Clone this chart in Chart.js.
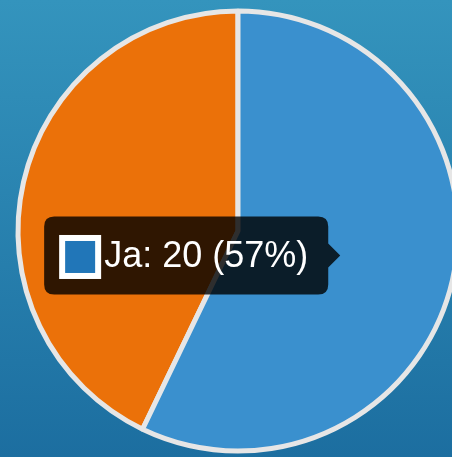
<!DOCTYPE html>
<html>
<head>
<meta charset="utf-8">
<script src="https://cdn.jsdelivr.net/npm/chart.js@4"></script>
<style>
  html, body {
    margin: 0;
    padding: 0;
    overflow: hidden;
    width: 452px;
    height: 457px;
    background: linear-gradient(to bottom, #3494bd, #1c6ea0);
  }
  #wrap {
    position: absolute;
    left: 0;
    top: 0;
    width: 476px;
    height: 462px;
  }
</style>
</head>
<body>
<div id="wrap"><canvas id="myChart"></canvas></div>
<script>
const labels = ["Ja", "Nein"];
const values = [20, 15];
const sliceColors = ["#3a90ce", "#eb7109"];
const boxColors = ["#2176b8", "#d8640a"];

const total = values.reduce((a, b) => a + b, 0);

const data = {
  labels: labels,
  datasets: [
    {
      data: values,
      backgroundColor: sliceColors,
      hoverBackgroundColor: sliceColors,
      borderColor: "#e6e6e6",
      hoverBorderColor: "#e6e6e6",
      borderWidth: 5,
      hoverBorderWidth: 5,
      hoverOffset: 0,
    },
  ],
};

const config = {
  type: "pie",
  data: data,
  options: {
    animation: false,
    responsive: true,
    maintainAspectRatio: false,
    radius: 220,
    layout: { padding: 0 },
    events: [],
    plugins: {
      legend: { display: false },
      tooltip: {
        backgroundColor: "rgba(0, 0, 0, 0.8)",
        bodyColor: "#ffffff",
        bodyFont: { family: "'Liberation Sans', Arial, sans-serif", size: 36, lineHeight: 1.2 },
        padding: { left: 20, right: 20, top: 19, bottom: 16 },
        cornerRadius: 10,
        caretSize: 12,
        caretPadding: 5,
        boxWidth: 32,
        boxHeight: 34,
        boxPadding: 6,
        callbacks: {
          title: () => "",
          label: (item) => {
            const pct = Math.round(item.raw / total * 100);
            return item.label + ": " + item.raw + " (" + pct + "%)";
          },
          labelColor: (item) => ({
            borderColor: "#ffffff",
            backgroundColor: boxColors[item.dataIndex],
            borderWidth: 10,
            borderRadius: 0,
          }),
        },
      },
    },
  },
};

const myChart = new Chart(document.getElementById("myChart"), config);
myChart.setActiveElements([{ datasetIndex: 0, index: 0 }]);
myChart.tooltip.setActiveElements([{ datasetIndex: 0, index: 0 }], { x: 0, y: 0 });
myChart.update();
</script>
</body>
</html>
